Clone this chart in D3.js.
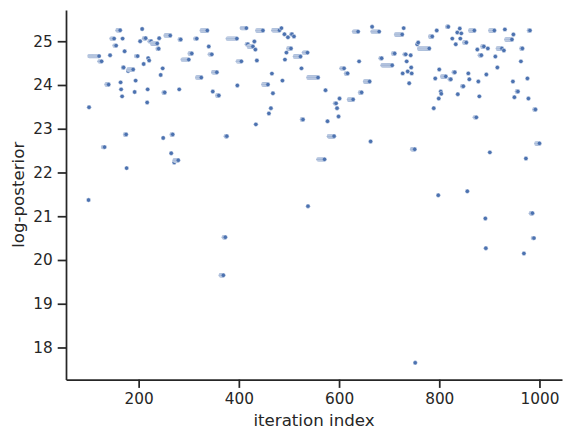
<!DOCTYPE html>
<html>
<head>
<meta charset="utf-8">
<script src="https://cdn.jsdelivr.net/npm/d3@7"></script>
<style>
  body { margin: 0; background: #fff; }
  svg { font-family: "DejaVu Sans", sans-serif; }
</style>
</head>
<body>
<div id="chart"></div>
<script>
// sampler trace, stored as runs: the chain sits on one log-posterior
// value from runStart to runEnd (inclusive) until a move is accepted
var runStart = [100, 101, 102, 122, 129, 136, 143, 146, 152, 158, 164, 165, 167, 168, 169, 172, 173, 176, 179, 180,
  192, 194, 195, 203, 207, 210, 211, 217, 218, 219, 221, 222, 227, 238, 241, 244, 248, 249, 250, 254,
  265, 266, 271, 272, 281, 282, 288, 302, 313, 317, 326, 340, 342, 348, 349, 357, 364, 370, 374, 378,
  397, 398, 406, 416, 420, 431, 433, 434, 436, 437, 449, 460, 464, 466, 468, 469, 485, 487, 491, 492,
  495, 498, 499, 505, 510, 512, 525, 526, 530, 538, 539, 559, 573, 577, 580, 592, 596, 599, 601, 605,
  614, 620, 630, 640, 642, 652, 663, 666, 667, 683, 687, 708, 714, 727, 729, 731, 735, 737, 740, 743,
  744, 745, 746, 752, 756, 758, 760, 782, 789, 792, 795, 798, 799, 800, 803, 804, 806, 816, 821, 826,
  829, 833, 836, 837, 841, 842, 844, 846, 850, 856, 858, 860, 862, 871, 876, 878, 880, 881, 886, 892,
  893, 894, 897, 901, 902, 912, 916, 917, 929, 931, 934, 947, 948, 950, 955, 963, 964, 969, 973, 976,
  978, 979, 983, 987, 990, 994];
var runEnd = [100, 101, 121, 126, 132, 140, 143, 151, 155, 163, 164, 165, 167, 168, 170, 172, 175, 176, 179, 189,
  192, 194, 198, 203, 207, 210, 214, 217, 218, 219, 221, 225, 237, 240, 241, 244, 248, 249, 252, 263,
  265, 268, 271, 279, 281, 284, 300, 306, 316, 325, 337, 340, 346, 348, 356, 360, 369, 373, 376, 396,
  397, 405, 415, 418, 428, 431, 433, 434, 436, 448, 458, 460, 464, 466, 468, 481, 485, 487, 491, 492,
  495, 498, 504, 506, 510, 523, 525, 528, 537, 538, 558, 571, 573, 577, 590, 594, 596, 599, 601, 610,
  617, 628, 638, 640, 645, 661, 663, 666, 680, 685, 706, 711, 726, 727, 729, 733, 735, 737, 740, 743,
  744, 745, 751, 752, 756, 758, 780, 786, 789, 792, 795, 798, 799, 800, 803, 804, 813, 818, 823, 826,
  831, 833, 836, 837, 841, 842, 844, 848, 854, 856, 858, 860, 870, 874, 876, 878, 880, 884, 889, 892,
  893, 894, 897, 901, 910, 912, 916, 925, 929, 931, 945, 947, 948, 950, 957, 963, 966, 969, 973, 976,
  978, 981, 986, 989, 992, 1000];
var runValue = [21.37, 23.49, 24.66, 24.54, 22.58, 24.01, 24.68, 25.06, 24.90, 25.25, 24.06, 23.90, 23.74, 25.06, 24.40, 24.77, 22.87, 22.10, 24.32, 24.355,
  23.84, 24.10, 24.66, 25.00, 25.28, 24.48, 25.07, 23.60, 23.90, 24.615, 24.56, 25.00, 24.95, 24.83, 25.07, 24.23, 24.38, 22.79, 23.83, 25.13,
  22.44, 22.87, 22.23, 22.28, 23.90, 25.04, 24.58, 24.72, 25.06, 24.17, 25.246, 24.88, 24.70, 23.85, 24.29, 23.76, 19.65, 20.52, 22.83, 25.06,
  23.99, 24.54, 25.30, 24.93, 24.88, 24.995, 24.81, 23.10, 24.56, 25.246, 24.01, 23.35, 23.47, 24.26, 23.81, 25.25, 25.30, 24.10, 25.16, 24.58,
  24.74, 25.09, 24.835, 25.16, 25.11, 24.65, 24.38, 23.21, 24.74, 21.23, 24.17, 22.30, 23.88, 23.17, 22.83, 23.58, 23.47, 23.28, 23.69, 24.38,
  24.265, 23.67, 25.22, 24.54, 23.83, 24.08, 22.71, 25.33, 25.22, 24.61, 24.45, 24.72, 25.155, 24.265, 25.30, 24.70, 24.54, 24.31, 24.04, 24.68,
  24.40, 24.265, 22.53, 17.65, 24.93, 24.97, 24.835, 25.11, 23.47, 24.15, 25.246, 21.48, 23.69, 24.355, 23.85, 23.80, 24.195, 25.33, 24.13, 25.06,
  24.29, 24.93, 25.20, 23.79, 25.29, 25.06, 25.18, 23.97, 24.97, 21.57, 24.265, 24.13, 25.246, 23.26, 24.81, 24.08, 23.74, 24.68, 24.88, 20.95,
  20.27, 24.24, 24.835, 22.46, 25.246, 24.65, 24.40, 24.835, 24.79, 25.27, 25.04, 24.08, 25.155, 23.72, 23.85, 24.54, 24.835, 20.15, 22.32, 24.15,
  23.69, 25.246, 21.07, 20.50, 23.44, 22.665];

var xTicks = [200, 400, 600, 800, 1000];
var yTicks = [18, 19, 20, 21, 22, 23, 24, 25];

var trace = [];
runStart.forEach(function(s, i) {
  for (var it = s; it <= runEnd[i]; it++) trace.push({iter: it, logp: runValue[i]});
});

var margin = {top: 10, left: 66},
    width  = 496,
    height = 369.6,
    ink    = '#262626';

function padded(ext) {
  var m = (ext[1] - ext[0]) * 0.05;
  return [ext[0] - m, ext[1] + m];
}

var x = d3.scaleLinear()
  .domain(padded(d3.extent(trace, function(d) { return d.iter; })))
  .range([0, width]);
var y = d3.scaleLinear()
  .domain(padded(d3.extent(trace, function(d) { return d.logp; })))
  .range([height, 0]);

var svg = d3.select('#chart').append('svg')
  .attr('width', 572)
  .attr('height', 441);

var g = svg.append('g')
  .attr('transform', 'translate(' + margin.left + ',' + margin.top + ')');

// points drawn in iteration order so each run smears to the right
g.append('g')
  .selectAll('circle')
  .data(trace)
  .enter().append('circle')
    .attr('cx', function(d) { return x(d.iter); })
    .attr('cy', function(d) { return y(d.logp); })
    .attr('r', 2.2)
    .attr('fill', '#4c72b0')
    .attr('stroke', '#fff')
    .attr('stroke-width', 0.45);

var xAxis = g.append('g')
  .attr('transform', 'translate(0,' + height + ')')
  .call(d3.axisBottom(x).tickValues(xTicks).tickFormat(d3.format('d'))
    .tickSize(8.3).tickSizeOuter(0).tickPadding(4.9));

var yAxis = g.append('g')
  .call(d3.axisLeft(y).tickValues(yTicks).tickFormat(d3.format('d'))
    .tickSize(8.3).tickSizeOuter(0).tickPadding(4.9));

[xAxis, yAxis].forEach(function(ax) {
  ax.select('.domain').attr('stroke', ink).attr('stroke-width', 1.74);
  ax.selectAll('.tick line').attr('stroke', ink).attr('stroke-width', 1.74);
  ax.selectAll('.tick text')
    .attr('fill', ink)
    .style('font-family', '"DejaVu Sans", sans-serif')
    .style('font-size', '15.3px');
});

svg.append('text')
  .attr('x', margin.left + width / 2)
  .attr('y', 426)
  .attr('text-anchor', 'middle')
  .attr('fill', ink)
  .style('font-size', '16.67px')
  .text('iteration index');

svg.append('text')
  .attr('transform', 'translate(24,' + (margin.top + height / 2) + ') rotate(-90)')
  .attr('text-anchor', 'middle')
  .attr('fill', ink)
  .style('font-size', '16.67px')
  .text('log-posterior');
</script>
</body>
</html>
